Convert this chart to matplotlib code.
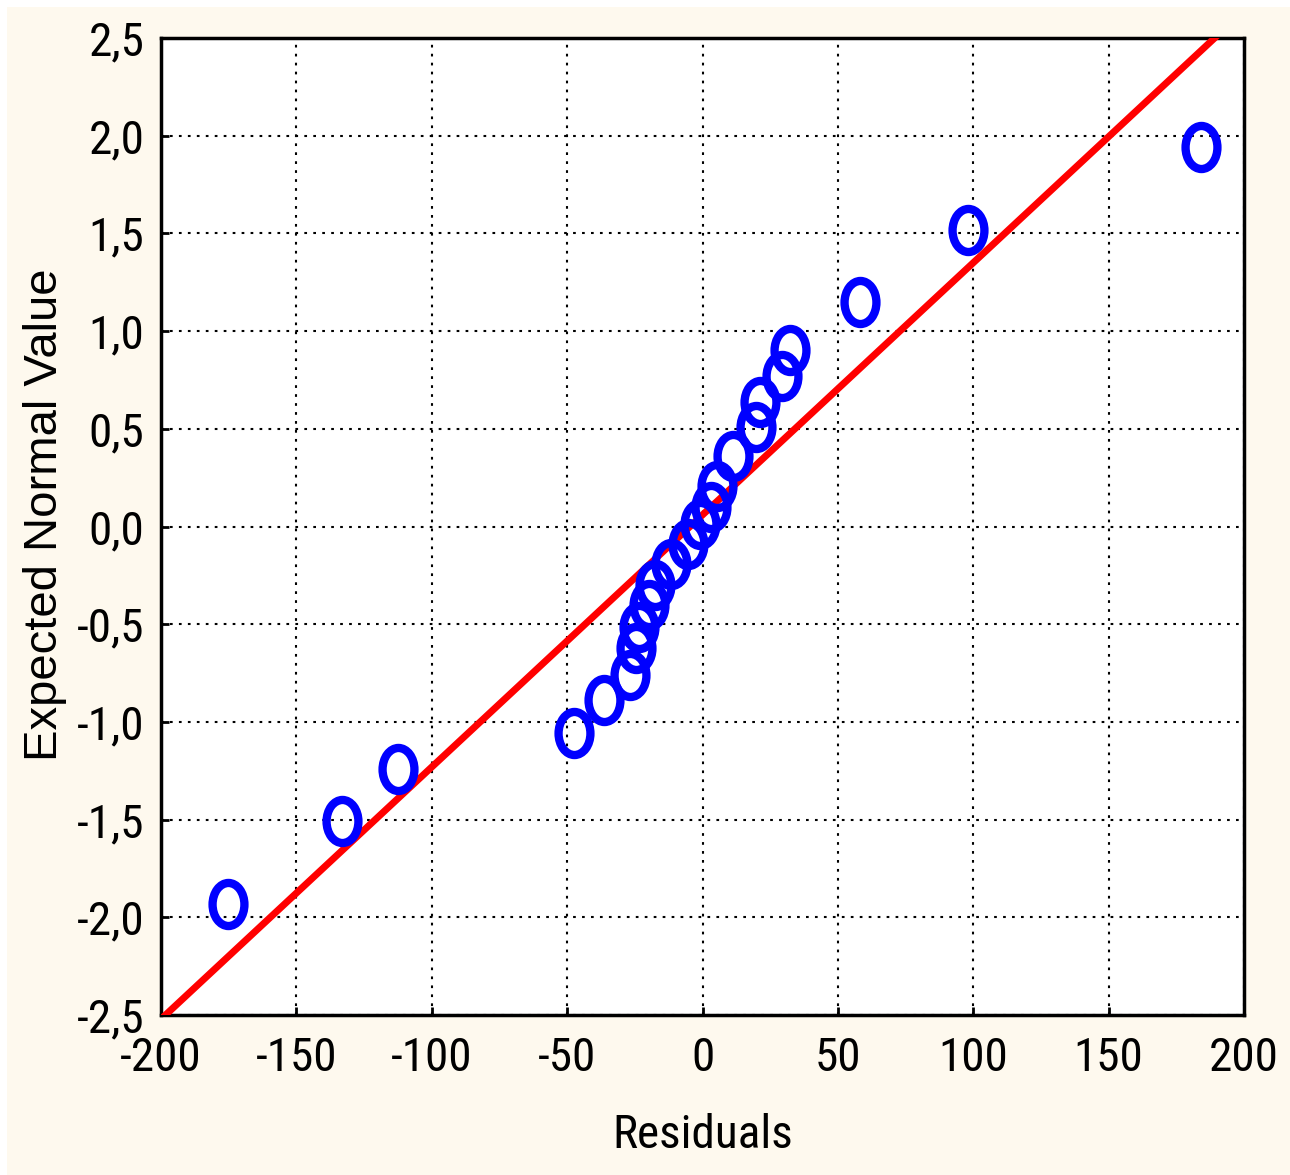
import matplotlib
matplotlib.use("Agg")
import matplotlib.pyplot as plt
from matplotlib.path import Path
from matplotlib.transforms import Affine2D
from matplotlib.patches import Rectangle
import numpy as np

# residuals and their expected normal values
residuals = [-175.2, -133.1, -112.4, -47.3, -36.2, -26.6, -24.4, -23.3, -19.6, -17.4,
             -11.5, -5.5, -1.1, 3.0, 5.2, 11.1, 19.6, 21.4, 29.2, 32.5, 58.0, 98.0, 184.1]
expected = [-1.93, -1.507, -1.241, -1.057, -0.888, -0.76, -0.622, -0.514, -0.402, -0.30,
            -0.192, -0.09, 0.013, 0.10, 0.207, 0.36, 0.51, 0.637, 0.77, 0.903, 1.149, 1.517, 1.942]

# reference line: y = slope * (x - x0)
line_x0 = -4.6
line_slope = 5 / 387.5

xticks = [-200, -150, -100, -50, 0, 50, 100, 150, 200]
yticks = [-2.5, -2.0, -1.5, -1.0, -0.5, 0.0, 0.5, 1.0, 1.5, 2.0, 2.5]
ytick_labels = ['-2,5', '-2,0', '-1,5', '-1,0', '-0,5', '0,0', '0,5', '1,0', '1,5', '2,0', '2,5']

narrow = ['Roboto Condensed', 'Liberation Sans', 'DejaVu Sans']
regular = ['Liberation Sans', 'DejaVu Sans']

fig = plt.figure(figsize=(12.9, 11.75), dpi=100)
fig.patch.set_facecolor('white')
fig.patches.append(Rectangle((7 / 1290, 0), 1, 1 - 7 / 1175, transform=fig.transFigure,
                             facecolor='#fef9ee', edgecolor='none', zorder=-10))

ax = fig.add_axes([161 / 1290, 1 - 1015 / 1175, (1244 - 161) / 1290, (1015 - 38) / 1175])
ax.set_facecolor('white')

# elliptical open marker
ellipse = Path.unit_circle().transformed(Affine2D().scale(0.74, 1.0))

lx = np.array([-200, 200])
ax.plot(lx, line_slope * (lx - line_x0), color='#ff0000', lw=5, zorder=3)
ax.plot(residuals, expected, linestyle='none', marker=ellipse, markersize=31,
        markerfacecolor='none', markeredgecolor='#0000ff', markeredgewidth=6, zorder=4,
        clip_on=False)

ax.set_xlim(-200, 200)
ax.set_ylim(-2.5, 2.5)
ax.set_xticks(xticks)
ax.set_xticklabels([str(t) for t in xticks], family=narrow, fontsize=34)
ax.set_yticks(yticks)
ax.set_yticklabels(ytick_labels, family=narrow, fontsize=34)
ax.tick_params(direction='in', length=6, width=2, colors='black')
ax.tick_params(axis='x', pad=15)
ax.tick_params(axis='y', pad=12)
ax.grid(True, color='black', linestyle=(0, (1.3, 3)), linewidth=1.5)
for s in ax.spines.values():
    s.set_linewidth(2.5)

ax.set_xlabel('Residuals', family=narrow, fontsize=34)
ax.xaxis.set_label_coords(0.5, -0.1)
ax.set_ylabel('Expected Normal Value', family=regular, fontsize=34)
ax.yaxis.set_label_coords(-0.087, 0.512)

fig.savefig('out.png', dpi=100)
